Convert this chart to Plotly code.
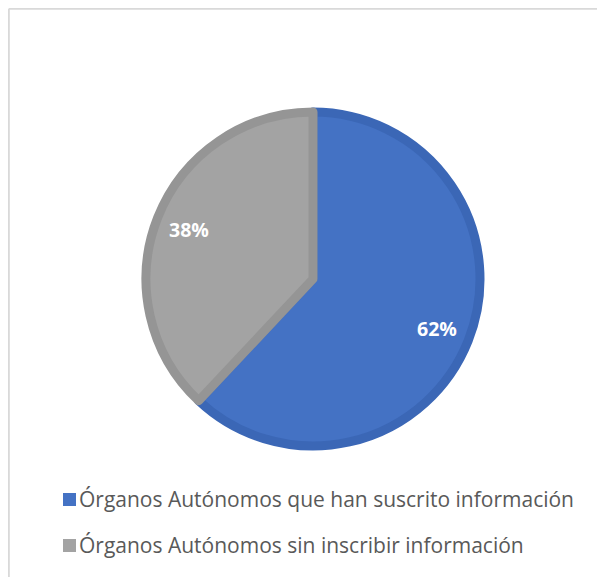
import math
import plotly.graph_objects as go

labels = ["Órganos Autónomos que han suscrito información",
          "Órganos Autónomos sin inscribir información"]
values = [62, 38]
colors = ["#4472C4", "#A3A3A3"]
edge_colors = ["#3B67B6", "#959595"]

# page body has an 8px margin, so the figure is drawn 8px in from the window edge
W, H = 597, 569
cx, cy, r = 305, 271, 167

fig = go.Figure()
fig.add_trace(go.Pie(
    labels=labels, values=values, sort=False, direction="clockwise", rotation=0,
    marker=dict(colors=colors, line=dict(color=edge_colors, width=9)),
    textinfo="none",
    domain=dict(x=[(cx - r) / W, (cx + r) / W], y=[1 - (cy + r) / H, 1 - (cy - r) / H]),
    showlegend=False, hoverinfo="label+percent",
))

# percentage labels placed further out than plotly's default, like the original
total = sum(values)
start = 0
for v in values:
    mid = (start + v / 2) / total * 2 * math.pi
    start += v
    px_ = cx + 0.78 * (r + 4) * math.sin(mid)
    py_ = cy - 0.78 * (r + 4) * math.cos(mid)
    fig.add_annotation(x=px_ / W, y=1 - py_ / H, xref="paper", yref="paper",
                       xanchor="center", yanchor="middle",
                       text=f"{round(v / total * 100)}%", showarrow=False,
                       font=dict(family="Open Sans", size=19.5, color="white", weight="bold"))

# legend drawn by hand to get the wide row spacing
leg_y = [491, 537]
for lab, col, yy in zip(labels, colors, leg_y):
    fig.add_shape(type="rect", xref="paper", yref="paper",
                  x0=55 / W, x1=68 / W, y0=1 - (yy + 7) / H, y1=1 - (yy - 6) / H,
                  fillcolor=col, line=dict(width=0))
    fig.add_annotation(x=69 / W, y=1 - yy / H, xref="paper", yref="paper",
                       text=lab, showarrow=False, xanchor="left", yanchor="middle",
                       font=dict(family="Open Sans", size=21, color="#595959"))

# chart frame (top and left edges visible)
fig.add_shape(type="line", xref="paper", yref="paper", x0=0.8 / W, x1=1, y0=1 - 0.8 / H, y1=1 - 0.8 / H,
              line=dict(color="#D9D9D9", width=2))
fig.add_shape(type="line", xref="paper", yref="paper", x0=0.8 / W, x1=0.8 / W, y0=0, y1=1 - 0.8 / H,
              line=dict(color="#D9D9D9", width=2))

fig.update_layout(width=W, height=H, margin=dict(l=0, r=0, t=0, b=0),
                  paper_bgcolor="white", plot_bgcolor="white")
fig.write_html("out.html")
